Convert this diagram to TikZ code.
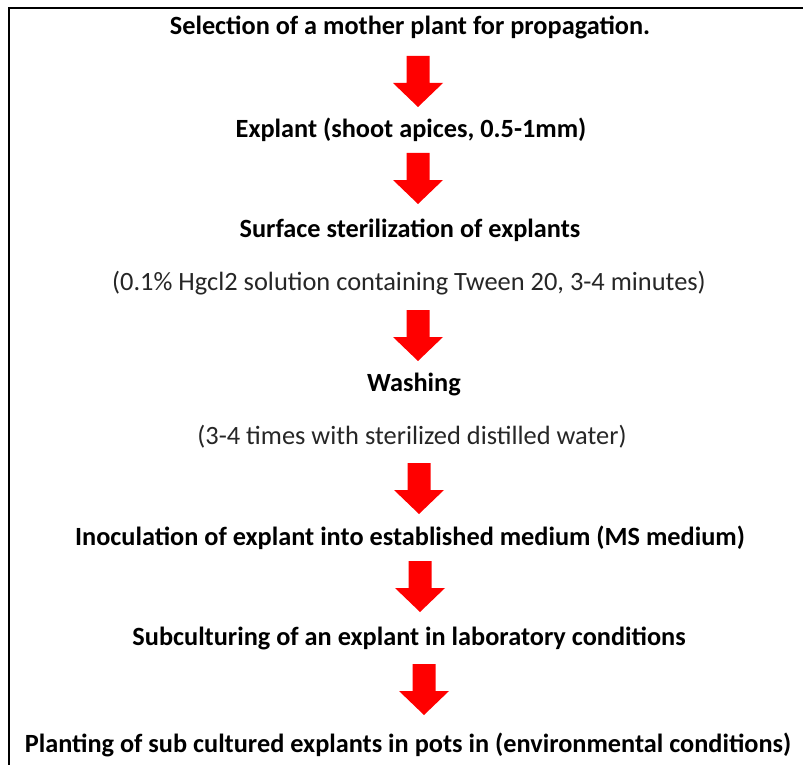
\documentclass[tikz,border=0pt]{standalone}
\usepackage{fontspec}
\setmainfont{Carlito}
\begin{document}
\begin{tikzpicture}[x=1pt,y=-1pt,
  steptext/.style={font=\bfseries\fontsize{26.3}{30}\selectfont, text=black, inner sep=0pt},
  notetext/.style={font=\fontsize{26.4}{30}\selectfont, text=black!85, inner sep=0pt},
  frameline/.style={draw=black, line width=2.4pt},
  downarrow/.pic={
    \fill[red] (-11.5,0) -- (11.5,0) -- (11.5,27) -- (25,27) -- (0,51)
      -- (-25,27) -- (-11.5,27) -- cycle;
  }]
\useasboundingbox (0,0) rectangle (803,765);
\fill[white] (0,0) rectangle (803,765);

% frame: top and left edges
\coordinate (fTL) at (9,8);
\coordinate (fTR) at (803,8);
\coordinate (fBL) at (9,765);
\draw[frameline] (fTR) -- (fTL) -- (fBL);

% process steps
\node[steptext] (s1) at (410,27)  {Selection of a mother plant for propagation.};
\node[steptext] (s2) at (411,130) {Explant (shoot apices, 0.5-1mm)};
\node[steptext] (s3) at (410,230) {Surface sterilization of explants};
\node[notetext] (n3) at (409,283) {(0.1\% Hgcl2 solution containing Tween 20, 3-4 minutes)};
\node[steptext] (s4) at (414,384) {Washing};
\node[notetext] (n4) at (412,437) {(3-4 times with sterilized distilled water)};
\node[steptext] (s5) at (410,538) {Inoculation of explant into established medium (MS medium)};
\node[steptext] (s6) at (409,638) {Subculturing of an explant in laboratory conditions};
\node[steptext] (s7) at (408,745) {Planting of sub cultured explants in pots in (environmental conditions)};

% block arrows between the steps
\pic at (418,56)  {downarrow};
\pic at (418,153) {downarrow};
\pic at (418,310) {downarrow};
\pic at (419,463) {downarrow};
\pic at (420,561) {downarrow};
\pic at (424,664) {downarrow};
\end{tikzpicture}
\end{document}
